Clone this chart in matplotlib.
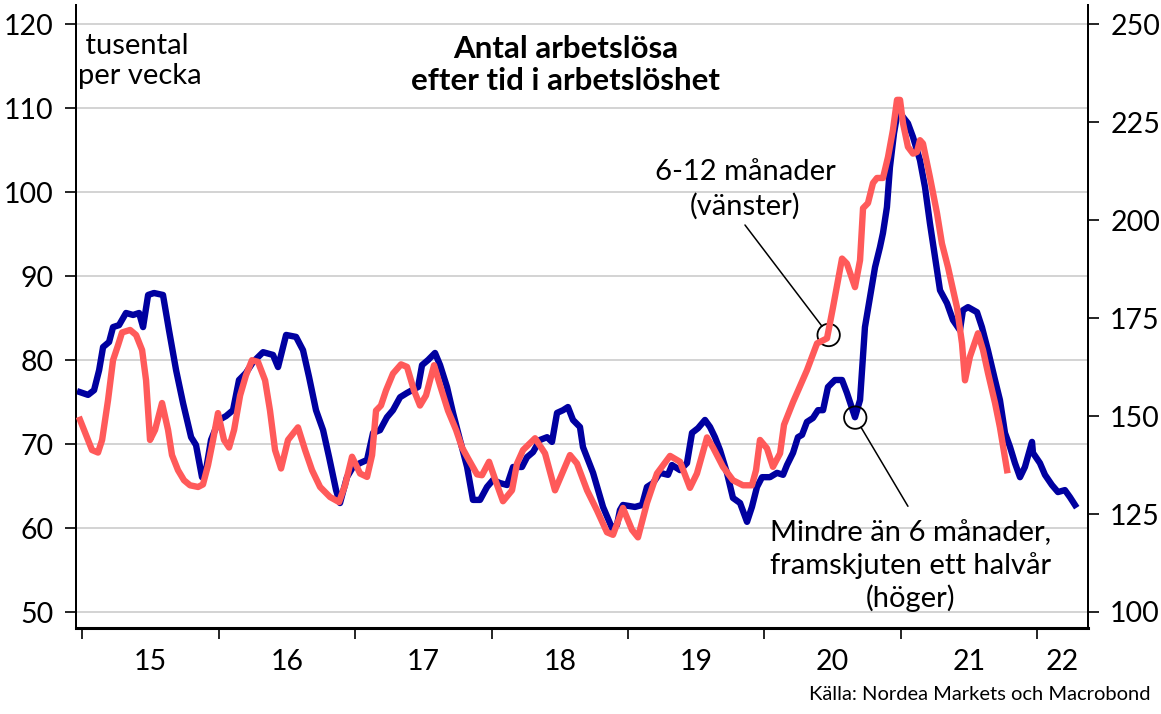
import numpy as np
import matplotlib
matplotlib.use("Agg")
import matplotlib.pyplot as plt
from matplotlib.ticker import FixedLocator, NullFormatter

plt.rcParams['font.family'] = ['Lato', 'DejaVu Sans']

# 6-12 månader (vänster axel), tusental per vecka
red_t = [2014.985, 2015.073, 2015.117, 2015.147, 2015.190, 2015.227, 2015.264, 2015.293,
         2015.352, 2015.396, 2015.440, 2015.469, 2015.498, 2015.535, 2015.586, 2015.630,
         2015.659, 2015.703, 2015.747, 2015.791, 2015.850, 2015.886, 2015.923, 2015.960,
         2015.996, 2016.040, 2016.077, 2016.114, 2016.158, 2016.201, 2016.245, 2016.289,
         2016.341, 2016.377, 2016.414, 2016.458, 2016.509, 2016.582, 2016.634, 2016.685,
         2016.744, 2016.817, 2016.883, 2016.927, 2016.978, 2017.037, 2017.088, 2017.125,
         2017.154, 2017.190, 2017.227, 2017.278, 2017.337, 2017.381, 2017.432, 2017.476,
         2017.520, 2017.579, 2017.623, 2017.681, 2017.740, 2017.784, 2017.828, 2017.894,
         2017.930, 2017.982, 2018.033, 2018.084, 2018.150, 2018.187, 2018.231, 2018.319,
         2018.392, 2018.465, 2018.575, 2018.626, 2018.700, 2018.773, 2018.846, 2018.890,
         2018.963, 2019.029, 2019.073, 2019.139, 2019.212, 2019.308, 2019.381, 2019.454,
         2019.505, 2019.579, 2019.623, 2019.696, 2019.769, 2019.842, 2019.908, 2019.938,
         2019.967, 2020.018, 2020.062, 2020.114, 2020.143, 2020.209, 2020.311, 2020.385,
         2020.458, 2020.502, 2020.568, 2020.604, 2020.663, 2020.700, 2020.722, 2020.758,
         2020.795, 2020.824, 2020.868, 2020.905, 2020.941, 2020.971, 2020.993, 2021.015,
         2021.051, 2021.088, 2021.117, 2021.139, 2021.161, 2021.212, 2021.264, 2021.300,
         2021.344, 2021.410, 2021.447, 2021.469, 2021.505, 2021.564, 2021.601, 2021.637,
         2021.689, 2021.725, 2021.777]
red_v = [72.9, 69.3, 69.0, 70.5, 75.2, 80.0, 81.8, 83.3,
         83.6, 83.0, 81.2, 77.6, 70.5, 71.7, 74.9, 71.7,
         68.7, 66.9, 65.7, 65.1, 64.9, 65.2, 67.5, 70.5,
         73.7, 70.5, 69.6, 71.7, 75.8, 78.2, 80.0, 79.8,
         77.6, 74.0, 69.3, 67.1, 70.5, 72.0, 69.3, 66.9,
         64.9, 63.7, 63.1, 65.1, 68.5, 66.5, 66.1, 68.7,
         74.0, 74.6, 76.4, 78.4, 79.5, 79.2, 76.4, 74.6,
         75.8, 79.4, 77.0, 74.0, 71.7, 69.6, 68.3, 66.4,
         66.3, 67.9, 65.5, 63.2, 64.5, 67.7, 69.3, 70.7,
         68.9, 64.5, 68.7, 67.7, 64.5, 62.1, 59.5, 59.2,
         62.4, 59.8, 58.9, 63.0, 66.5, 68.6, 67.9, 64.8,
         66.5, 70.8, 69.6, 67.3, 65.7, 65.1, 65.1, 66.9,
         70.5, 69.5, 67.3, 68.9, 72.3, 75.0, 78.8, 82.0,
         82.6, 86.3, 92.1, 91.5, 88.7, 91.9, 98.1, 98.7,
         101.1, 101.7, 101.7, 104.2, 107.4, 111.0, 111.0, 108.2,
         105.4, 104.6, 104.8, 106.2, 105.8, 101.8, 97.5, 93.9,
         91.1, 86.3, 82.0, 77.6, 80.4, 83.2, 81.2, 78.5,
         74.9, 72.0, 66.9]

# Mindre än 6 månader, framskjuten ett halvår (höger axel)
blue_t = [2014.985, 2015.044, 2015.088, 2015.125, 2015.154, 2015.198, 2015.227, 2015.271,
          2015.322, 2015.374, 2015.418, 2015.447, 2015.484, 2015.527, 2015.593, 2015.637,
          2015.689, 2015.740, 2015.799, 2015.835, 2015.879, 2015.908, 2015.945, 2016.004,
          2016.055, 2016.106, 2016.150, 2016.201, 2016.253, 2016.326, 2016.399, 2016.436,
          2016.495, 2016.568, 2016.619, 2016.663, 2016.714, 2016.766, 2016.810, 2016.861,
          2016.890, 2016.941, 2016.985, 2017.037, 2017.088, 2017.132, 2017.183, 2017.234,
          2017.278, 2017.330, 2017.381, 2017.418, 2017.462, 2017.491, 2017.535, 2017.586,
          2017.623, 2017.674, 2017.718, 2017.769, 2017.821, 2017.864, 2017.916, 2017.967,
          2018.011, 2018.062, 2018.114, 2018.158, 2018.223, 2018.260, 2018.304, 2018.355,
          2018.407, 2018.443, 2018.480, 2018.524, 2018.560, 2018.597, 2018.648, 2018.670,
          2018.744, 2018.817, 2018.883, 2018.919, 2018.941, 2018.963, 2019.051, 2019.103,
          2019.139, 2019.183, 2019.234, 2019.293, 2019.322, 2019.381, 2019.432, 2019.469,
          2019.513, 2019.564, 2019.601, 2019.637, 2019.674, 2019.725, 2019.769, 2019.821,
          2019.872, 2019.908, 2019.945, 2019.982, 2020.040, 2020.092, 2020.136, 2020.165,
          2020.209, 2020.245, 2020.275, 2020.311, 2020.355, 2020.392, 2020.429, 2020.465,
          2020.516, 2020.568, 2020.604, 2020.663, 2020.700, 2020.736, 2020.773, 2020.810,
          2020.846, 2020.868, 2020.897, 2020.919, 2020.949, 2020.978, 2021.015, 2021.051,
          2021.088, 2021.139, 2021.176, 2021.212, 2021.249, 2021.286, 2021.337, 2021.381,
          2021.432, 2021.454, 2021.491, 2021.557, 2021.593, 2021.637, 2021.689, 2021.725,
          2021.762, 2021.799, 2021.835, 2021.872, 2021.908, 2021.960, 2021.967, 2022.018,
          2022.055, 2022.106, 2022.150, 2022.201, 2022.238, 2022.275]
blue_v = [156.1, 155.4, 156.6, 161.7, 167.6, 168.9, 172.7, 173.2,
          176.3, 175.8, 176.3, 172.7, 180.9, 181.4, 180.9, 171.9,
          161.7, 153.3, 144.6, 142.6, 134.4, 136.2, 143.9, 149.0,
          150.0, 151.5, 159.2, 161.0, 163.8, 166.3, 165.6, 162.5,
          170.7, 170.2, 166.8, 160.0, 151.5, 146.4, 139.5, 131.1,
          127.8, 134.4, 137.0, 138.0, 138.8, 145.7, 146.4, 149.7,
          151.5, 154.8, 155.9, 156.6, 157.4, 163.0, 164.3, 166.1,
          163.0, 157.4, 150.8, 143.9, 137.0, 128.6, 128.6, 131.9,
          133.7, 132.9, 132.4, 137.0, 137.0, 139.5, 140.8, 143.9,
          144.6, 143.4, 150.8, 151.5, 152.3, 149.0, 147.2, 142.1,
          135.5, 126.8, 121.4, 122.2, 126.0, 127.3, 126.8, 127.3,
          131.9, 132.9, 135.5, 135.0, 137.5, 136.2, 138.0, 145.7,
          146.9, 149.0, 147.2, 144.6, 141.3, 135.5, 129.1, 127.8,
          123.0, 126.8, 131.9, 134.4, 134.4, 135.5, 135.0, 137.5,
          140.6, 144.6, 145.2, 148.5, 149.5, 151.5, 151.5, 157.4,
          159.2, 159.2, 155.9, 149.7, 154.1, 172.7, 180.4, 188.0,
          193.1, 196.7, 203.3, 213.5, 222.2, 228.1, 226.3, 224.7,
          221.2, 215.3, 208.4, 199.2, 190.6, 182.1, 178.8, 174.5,
          171.9, 177.0, 177.8, 176.5, 172.7, 166.8, 159.2, 154.1,
          145.7, 142.1, 138.0, 134.4, 137.0, 143.4, 140.6, 138.0,
          135.0, 132.4, 130.6, 131.1, 129.3, 127.3]

years = [2015, 2016, 2017, 2018, 2019, 2020, 2021, 2022]
year_labels = ['15', '16', '17', '18', '19', '20', '21', '22']
left_ticks = [50, 60, 70, 80, 90, 100, 110, 120]
right_ticks = [100, 125, 150, 175, 200, 225, 250]

RED = '#FF5A5A'
BLUE = '#0000A0'
XMIN, XMAX = 2014.956, 2022.37

fig = plt.figure(figsize=(11.61, 7.14), dpi=100)
ax = fig.add_axes([0.0655, 0.1204, 0.8716, 0.8726])
ax2 = ax.twinx()

ax.set_xlim(XMIN, XMAX)
ax.set_ylim(48.1, 122.3)
ax2.set_ylim(95.9, 254.9)

# blå först, röd ovanpå (röd ritas i vänster skala)
ax2.plot(blue_t, blue_v, color=BLUE, lw=4.6, zorder=2)
ax2.plot(red_t, red_v, color=RED, lw=4.6, transform=ax.transData, zorder=3)

ax.set_yticks(left_ticks)
ax2.set_yticks(right_ticks)
ax.grid(axis='y', color='#cccccc', lw=1.2)
ax.set_axisbelow(True)

# årsgränser som ticks, etiketter mitt i året
ax.xaxis.set_major_locator(FixedLocator(years))
ax.xaxis.set_major_formatter(NullFormatter())
mids = [y + 0.5 if y + 1 <= XMAX else (y + XMAX) / 2 for y in years]
ax.xaxis.set_minor_locator(FixedLocator(mids))
ax.set_xticklabels(year_labels, minor=True)
ax.tick_params(axis='x', which='major', length=8, width=1.2, direction='out')
ax.tick_params(axis='x', which='minor', length=0, pad=15, labelsize=20.5)
ax.tick_params(axis='y', length=8, width=1.2, pad=8, labelsize=20.5)
ax2.tick_params(axis='y', length=8, width=1.2, pad=8, labelsize=20.5)

for a in (ax, ax2):
    a.spines['top'].set_visible(False)
    for s in ('left', 'right', 'bottom'):
        a.spines[s].set_linewidth(1.4)
ax.spines['bottom'].set_linewidth(2.2)

ax.text(0.002, 0.910, ' tusental\nper vecka', transform=ax.transAxes, ha='left', va='center',
        fontsize=21, linespacing=1.15)
ax.text(0.484, 0.904, 'Antal arbetslösa\nefter tid i arbetslöshet', transform=ax.transAxes,
        ha='center', va='center', fontsize=22.5, fontweight='bold', linespacing=1.15)

# annotationer
red_pt = (2020.47, 83.0)
blue_pt = (2020.665, 149.6)
ax.scatter([red_pt[0]], [red_pt[1]], s=260, facecolors='none', edgecolors='black', lw=1.3, zorder=5)
ax2.scatter([blue_pt[0]], [blue_pt[1]], s=260, facecolors='none', edgecolors='black', lw=1.3, zorder=5)
ax.annotate('', xy=red_pt, xytext=(2019.857, 96.1),
            arrowprops=dict(arrowstyle='-', color='black', lw=1.1, shrinkA=0, shrinkB=8))
ax2.annotate('', xy=blue_pt, xytext=(2021.051, 62.6), textcoords=ax.transData,
             arrowprops=dict(arrowstyle='-', color='black', lw=1.1, shrinkA=0, shrinkB=8))
ax.text(2019.86, 100.3, '6-12 månader\n(vänster)', ha='center', va='center', fontsize=21,
        linespacing=1.35)
ax.text(2021.073, 55.5, 'Mindre än 6 månader,\nframskjuten ett halvår\n(höger)', ha='center',
        va='center', fontsize=21, linespacing=1.25, zorder=6)

fig.text(0.991, 0.015, 'Källa: Nordea Markets och Macrobond', ha='right', va='bottom', fontsize=14.5)

fig.savefig('out.png', dpi=100)
